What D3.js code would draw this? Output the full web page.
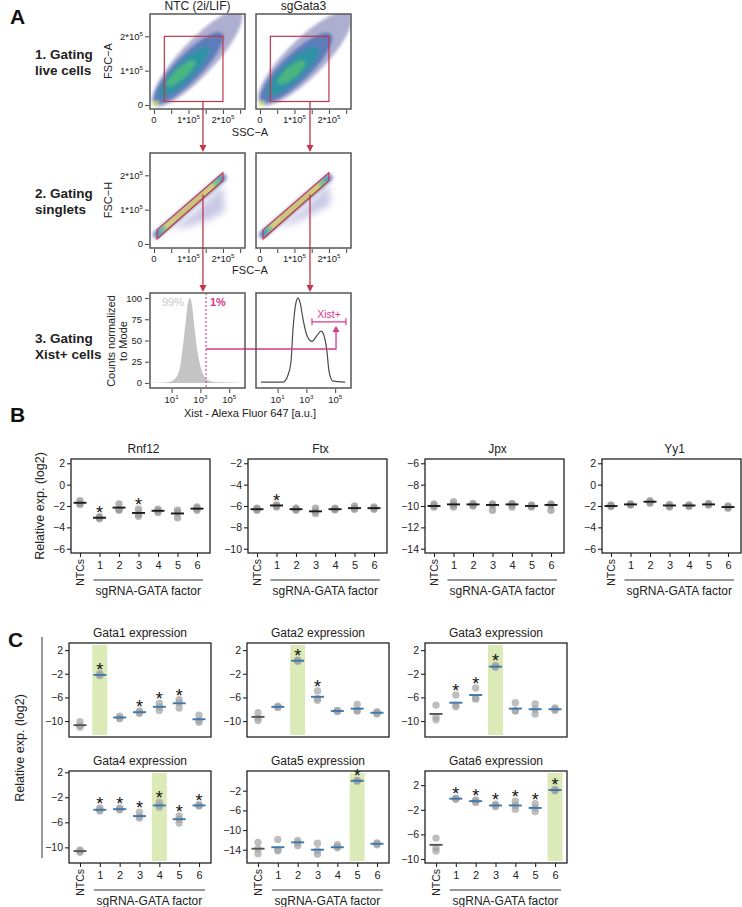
<!DOCTYPE html>
<html><head><meta charset="utf-8">
<script src="https://cdn.jsdelivr.net/npm/d3@7/dist/d3.min.js"></script>
<style>
body{margin:0;background:#fff;}
svg text{font-family:"Liberation Sans",Arial,Helvetica,sans-serif;}
</style></head>
<body>
<svg id="fig" width="742" height="907" xmlns="http://www.w3.org/2000/svg"></svg>
<script>
// ================= DATA =================
const categories = ["NTCs","1","2","3","4","5","6"];

// ---- Panel A (flow cytometry gating) ----
const aColTitles = ["NTC (2i/LIF)", "sgGata3"];
const aRowLabels = [["1. Gating","live cells"],["2. Gating","singlets"],["3. Gating","Xist+ cells"]];
const scatterXTicks = [0,0.5,1,1.5,2,2.5];          // ×10^5
const scatterYTicks = [0,1,2];                      // ×10^5
const scatterTickLabels = [["0",""],["1*10","5"],["2*10","5"]];
const histXTicks = [1,3,5];                         // log10
const histYTicks = [0,25,50,75,100];
const liveGate = [0.3,0.1,2.0,2.0];                 // x0,y0,x1,y1 (×10^5)
const singletGate = [[0.09,0.41],[2.0,2.07],[2.0,1.84],[0.09,0.15]];
// density ellipses: cx, cy, semi-major, semi-minor (×10^5), angle (deg), density level
const liveCloudNTC = [
  [1.25,1.35,1.85,0.5,47,0],
  [1.0,1.08,1.4,0.38,46,1],
  [0.88,0.97,1.0,0.27,45,2],
  [0.78,0.92,0.55,0.16,42,3],
  [0.05,0.05,0.1,0.05,45,4]
];
const liveCloudSg = [
  [1.3,1.35,1.85,0.55,45,0],
  [1.05,1.08,1.4,0.41,44,1],
  [0.95,0.98,1.0,0.29,43,2],
  [0.92,0.95,0.5,0.17,40,3],
  [0.05,0.05,0.1,0.05,45,4]
];
// singlet band segments: x0,y0,x1,y1, half-width (×10^5), density level
const singletBand = [
  [0.08,0.27,2.0,1.93,0.12,0],
  [0.12,0.31,1.95,1.9,0.085,1],
  [0.25,0.42,1.85,1.81,0.06,2],
  [0.35,0.51,1.7,1.69,0.042,3],
  [0.6,0.73,1.45,1.47,0.014,4]
];
const doubletsNTC = [[0.5,0.42],[1.2,0.95],[2.0,1.72],[2.05,0.95],[1.6,0.7],[1.0,0.5]];
const doubletsSg  = [[0.5,0.45],[1.2,0.98],[2.0,1.74],[2.05,1.15],[1.6,0.9],[1.0,0.6]];
// histograms: [log10 fluorescence, % of mode]
const histNTC = [[-0.5,0],[0.5,0.5],[1.0,2],[1.3,6],[1.6,20],[1.8,45],[2.0,75],[2.14,95],[2.28,100],[2.42,92],[2.56,70],[2.77,40],[3.0,20],[3.25,8],[3.55,3],[4.0,1],[6.1,0]];
const histSg = [[-0.15,1],[1.38,1],[1.72,9],[1.93,25],[2.07,63],[2.28,95],[2.42,100],[2.56,95],[2.77,75],[3.04,56],[3.39,49],[3.74,56],[4.02,61],[4.15,59],[4.43,37],[4.57,14],[4.85,2],[5.68,1]];
const xistThreshold = 3.39;
const xistConnector = [40, 5.06, 67];   // y level, x in right plot (log), arrow tip y
const xistBracket = [3.39, 5.75, 72];   // x0, x1 (log), y
const pctLabels = ["99%","1%"];

// ---- Panel B ----
const bGenes = ["Rnf12","Ftx","Jpx","Yy1"];
const bDomains = [[-6.4,2.4],[-10.4,-1.6],[-14.4,-5.6],[-6.4,2.4]];
const bYTicks = [[2,0,-2,-4,-6],[-2,-4,-6,-8,-10],[-6,-8,-10,-12,-14],[2,0,-2,-4,-6]];
const bRnf12 = [[-1.5,-1.75,-1.85],[-3.0,-3.1,-3.2],[-1.8,-2.3,-2.4],[-2.3,-2.75,-2.95],[-2.3,-2.45,-2.6],[-2.4,-2.6,-3.1],[-2.1,-2.25,-2.4]];
const bFtx   = [[-6.2,-6.3,-6.4],[-5.9,-6.0,-6.1],[-6.2,-6.3,-6.4],[-6.2,-6.5,-6.7],[-6.2,-6.3,-6.35],[-6.0,-6.2,-6.3],[-6.1,-6.2,-6.3]];
const bJpx   = [[-9.8,-10.0,-10.1],[-9.6,-9.9,-10.1],[-9.75,-9.9,-10.0],[-9.8,-9.9,-10.4],[-9.75,-9.85,-10.1],[-9.9,-10.0,-10.1],[-9.8,-9.9,-10.4]];
const bYy1   = [[-1.9,-2.0,-2.05],[-1.8,-1.85,-1.9],[-1.5,-1.65,-1.75],[-1.85,-2.0,-2.1],[-1.9,-1.95,-2.05],[-1.75,-1.85,-1.9],[-2.0,-2.1,-2.2]];
const bMeans = [
  [-1.7,-3.1,-2.15,-2.65,-2.45,-2.7,-2.25],
  [-6.3,-5.95,-6.3,-6.5,-6.3,-6.2,-6.2],
  [-10.0,-9.85,-9.85,-9.9,-9.85,-10.0,-9.9],
  [-2.0,-1.85,-1.6,-1.95,-1.95,-1.85,-2.1]
];
const bStars = [["1","3"],["1"],[],[]];

// ---- Panel C ----
const cGenes = ["Gata1 expression","Gata2 expression","Gata3 expression","Gata4 expression","Gata5 expression","Gata6 expression"];
const cDomains = [[-12.7,3.2],[-12.7,3.2],[-12.7,3.2],[-12.5,2.2],[-16.7,2.0],[-10.65,4.3]];
const cYTicks = [[2,-2,-6,-10],[2,-2,-6,-10],[2,-2,-6,-10],[2,-2,-6,-10],[-2,-6,-10,-14],[2,-2,-6,-10]];
const cGata1 = [[-10.1,-10.8,-11.0],[-2.0,-2.2,-2.3],[-9.2,-9.5,-9.6],[-8.3,-8.6,-8.7],[-7.0,-7.6,-8.2],[-6.4,-6.9,-7.8],[-9.0,-9.9,-10.2]];
const cGata2 = [[-8.6,-9.5,-9.9],[-7.5,-7.6,-7.7],[0.1,0.2,0.3],[-4.9,-6.2,-6.5],[-8.2,-8.3,-8.4],[-7.2,-8.2,-8.3],[-8.4,-8.6,-8.8]];
const cGata3 = [[-7.3,-9.3,-9.8],[-5.6,-7.3,-7.6],[-4.4,-6.1,-6.3],[-0.6,-0.8,-0.9],[-6.9,-8.2,-8.3],[-7.1,-8.0,-8.8],[-7.8,-8.0,-8.2]];
const cGata4 = [[-10.4,-10.6,-10.8],[-3.7,-4.0,-4.2],[-3.7,-3.9,-4.0],[-4.4,-5.1,-5.3],[-2.8,-3.3,-3.6],[-5.0,-5.5,-6.1],[-3.2,-3.3,-3.4]];
const cGata5 = [[-12.5,-13.8,-14.8],[-11.9,-14.0,-14.2],[-12.1,-12.6,-13.2],[-12.7,-14.2,-14.9],[-13.0,-13.4,-13.6],[-0.1,0.0,0.1],[-12.6,-12.8,-13.0]];
const cGata6 = [[-6.6,-8.2,-8.7],[-0.1,-0.2,-0.3],[-0.4,-0.6,-0.8],[-1.1,-1.3,-1.5],[-0.6,-1.3,-1.9],[-1.0,-1.7,-2.3],[1.1,1.2,1.3]];
const cMeans = [
  [-10.7,-2.2,-9.4,-8.5,-7.6,-7.0,-9.7],
  [-9.3,-7.6,0.2,-5.9,-8.3,-7.9,-8.6],
  [-8.8,-6.9,-5.6,-0.8,-7.9,-8.0,-8.0],
  [-10.6,-4.0,-3.9,-5.0,-3.3,-5.5,-3.3],
  [-13.8,-13.5,-12.5,-14.0,-13.5,0.0,-12.8],
  [-7.7,-0.2,-0.6,-1.3,-1.3,-1.7,1.2]
];
const cStars = [["1","3","4","5"],["2","3"],["1","2","3"],["1","2","3","4","5","6"],["5"],["1","2","3","4","5","6"]];
const cHighlight = ["1","2","3","4","5","6"];

// ================= DRAWING =================
const svg = d3.select("#fig");
const defs = svg.append("defs");
defs.append("filter").attr("id","blur").attr("x","-30%").attr("y","-30%").attr("width","160%").attr("height","160%")
  .append("feGaussianBlur").attr("stdDeviation",1.6);
defs.append("filter").attr("id","blur2").attr("x","-30%").attr("y","-30%").attr("width","160%").attr("height","160%")
  .append("feGaussianBlur").attr("stdDeviation",3.5);
const RED = "#c2354b", MAG = "#d8388c";
const liveColors = ["#3f3e92","#3b68b0","#2996a2","#4fb97c","#c4dd4c"];
const liveOpac = [0.42,0.7,0.85,0.9,0.95];
const bandColors = ["#5252a8","#3a9cc6","#79cc6e","#f5dc44","#f08c5c"];
const bandOpac = [0.6,0.8,0.95,1,0.85];

function sup(sel, base, exp, size){
  sel.text(null);
  sel.append("tspan").text(base);
  if (exp) sel.append("tspan").attr("font-size", size*0.65).attr("dy", -size*0.42).text(exp);
}
function panelLabel(t, x, y){
  svg.append("text").attr("x",x).attr("y",y).attr("font-size",21).attr("font-weight","bold").attr("fill","#111").text(t);
}

// ---------- Panel A ----------
panelLabel("A", 10, 24);
const aColX = [150, 256], aRowY = [14, 153, 293], aW = 95, aH = 95;
const sX = aColX.map(x0 => d3.scaleLinear().domain([-0.116, 2.64]).range([x0, x0 + aW]));
const sY = aRowY.slice(0,2).map(y0 => d3.scaleLinear().domain([-0.118, 2.65]).range([y0 + aH, y0]));
const hX = aColX.map(x0 => d3.scaleLinear().domain([-0.5, 6.1]).range([x0, x0 + aW]));
const hY = d3.scaleLinear().domain([-6, 106]).range([aRowY[2] + aH, aRowY[2]]);

aColTitles.forEach((t,i) => svg.append("text").attr("x", aColX[i] + aW/2).attr("y", 10).attr("text-anchor","middle")
  .attr("font-size", 12).attr("fill","#222").text(t));
const rowLabelY = [[59,75],[198,214],[343,359]];
aRowLabels.forEach((l,r) => l.forEach((s,k) => svg.append("text").attr("x",35).attr("y",rowLabelY[r][k])
  .attr("font-size",13.5).attr("font-weight","bold").attr("fill","#222").text(s)));

aColX.forEach((x0,i) => aRowY.forEach((y0,r) => {
  defs.append("clipPath").attr("id",`clip${i}${r}`).append("rect").attr("x",x0).attr("y",y0).attr("width",aW).attr("height",aH);
}));

// Row 1: live cells
[liveCloudNTC, liveCloudSg].forEach((cloud, i) => {
  const x = sX[i], y = sY[0], k = x(1) - x(0);
  const g = svg.append("g").attr("clip-path",`url(#clip${i}0)`).append("g").attr("filter","url(#blur)");
  cloud.forEach(([cx,cy,a,b,ang,lvl]) => {
    g.append("ellipse").attr("cx",x(cx)).attr("cy",y(cy)).attr("rx",a*k).attr("ry",b*k)
      .attr("transform",`rotate(${-ang},${x(cx)},${y(cy)})`)
      .attr("fill",liveColors[lvl]).attr("opacity",liveOpac[lvl]);
  });
  svg.append("rect").attr("x",x(liveGate[0])).attr("y",y(liveGate[3])).attr("width",x(liveGate[2])-x(liveGate[0]))
    .attr("height",y(liveGate[1])-y(liveGate[3])).attr("fill","none").attr("stroke",RED).attr("stroke-width",1.2);
});

// Row 2: singlets
[doubletsNTC, doubletsSg].forEach((dbl, i) => {
  const x = sX[i], y = sY[1], k = x(1) - x(0);
  const clip = svg.append("g").attr("clip-path",`url(#clip${i}1)`);
  clip.append("path").attr("d", d3.line().x(d=>x(d[0])).y(d=>y(d[1]))(dbl) + "Z")
    .attr("fill","#5858b0").attr("opacity",0.32).attr("filter","url(#blur2)");
  const g = clip.append("g").attr("filter","url(#blur)");
  singletBand.forEach(([x0,y0,x1,y1,hw,lvl]) => {
    g.append("line").attr("x1",x(x0)).attr("y1",y(y0)).attr("x2",x(x1)).attr("y2",y(y1))
      .attr("stroke",bandColors[lvl]).attr("stroke-width",2*hw*k).attr("stroke-linecap","round").attr("opacity",bandOpac[lvl]);
  });
  svg.append("path").attr("d", d3.line().x(d=>x(d[0])).y(d=>y(d[1]))(singletGate) + "Z")
    .attr("fill","none").attr("stroke",RED).attr("stroke-width",1.2);
});

// Row 3: histograms
[histNTC, histSg].forEach((h,i) => {
  const x = hX[i];
  const clip = svg.append("g").attr("clip-path",`url(#clip${i}2)`);
  if (i === 0) {
    clip.append("path").attr("d", d3.area().x(d=>x(d[0])).y0(hY(0)).y1(d=>hY(d[1])).curve(d3.curveMonotoneX)(h))
      .attr("fill","#c4c4c4");
  } else {
    clip.append("path").attr("d", d3.line().x(d=>x(d[0])).y(d=>hY(d[1])).curve(d3.curveMonotoneX)(h))
      .attr("fill","none").attr("stroke","#4a4a4a").attr("stroke-width",1.2);
  }
});
svg.append("line").attr("x1",hX[0](xistThreshold)).attr("x2",hX[0](xistThreshold)).attr("y1",aRowY[2]).attr("y2",aRowY[2]+aH)
  .attr("stroke",MAG).attr("stroke-width",1.1).attr("stroke-dasharray","2,2");
svg.append("path").attr("d",`M${hX[0](xistThreshold)},${hY(xistConnector[0])}H${hX[1](xistConnector[1])}V${hY(xistConnector[2])+5}`)
  .attr("fill","none").attr("stroke",MAG).attr("stroke-width",1.3);
svg.append("path").attr("d",`M${hX[1](xistConnector[1])-3.5},${hY(xistConnector[2])+6}L${hX[1](xistConnector[1])},${hY(xistConnector[2])}L${hX[1](xistConnector[1])+3.5},${hY(xistConnector[2])+6}Z`)
  .attr("fill",MAG);
{
  const bx0 = hX[1](xistBracket[0]), bx1 = hX[1](xistBracket[1]), by = hY(xistBracket[2]);
  svg.append("path").attr("d",`M${bx0},${by-3.5}V${by+3.5}M${bx0},${by}H${bx1}M${bx1},${by-3.5}V${by+3.5}`)
    .attr("fill","none").attr("stroke",MAG).attr("stroke-width",1.2);
  svg.append("text").attr("x",(bx0+bx1)/2).attr("y",by-4).attr("text-anchor","middle").attr("font-size",10.5).attr("fill",MAG).text("Xist+");
}
svg.append("text").attr("x",hX[0](1.1)).attr("y",aRowY[2]+13).attr("text-anchor","middle").attr("font-size",11).attr("fill","#c8c8c8").text(pctLabels[0]);
svg.append("text").attr("x",hX[0](xistThreshold)+4).attr("y",aRowY[2]+13).attr("font-size",11).attr("font-weight","bold").attr("fill",MAG).text(pctLabels[1]);

// arrows between rows
const arrowX = [1.42, 1.45];
aColX.forEach((x0,i) => {
  const ax = sX[i](arrowX[i]);
  const segs = [[sY[0](liveGate[1]), aRowY[1]-1], [sY[1](1.44), aRowY[2]-1]];
  segs.forEach(([ya,yb]) => {
    svg.append("line").attr("x1",ax).attr("x2",ax).attr("y1",ya).attr("y2",yb-5).attr("stroke",RED).attr("stroke-width",1.3);
    svg.append("path").attr("d",`M${ax-3.5},${yb-7}L${ax},${yb}L${ax+3.5},${yb-7}Z`).attr("fill",RED);
  });
});

function styleAxis(g, fs){
  g.select(".domain").remove();
  g.selectAll(".tick line").attr("stroke","#444");
  g.selectAll(".tick text").attr("font-size",fs).attr("fill","#222").attr("font-family",null);
}
aColX.forEach((x0,i) => aRowY.forEach((y0,r) => {
  svg.append("rect").attr("x",x0).attr("y",y0).attr("width",aW).attr("height",aH).attr("fill","none").attr("stroke","#555").attr("stroke-width",1.5);
  if (r < 2) {
    const gx = svg.append("g").attr("transform",`translate(0,${y0+aH+1})`)
      .call(d3.axisBottom(sX[i]).tickValues(scatterXTicks).tickSize(4).tickFormat(""));
    styleAxis(gx, 9.5);
    scatterYTicks.forEach(v => {
      const t = svg.append("text").attr("x",sX[i](v)).attr("y",y0+aH+14).attr("text-anchor","middle").attr("font-size",9.5).attr("fill","#222");
      sup(t, scatterTickLabels[v][0], scatterTickLabels[v][1], 9.5);
    });
    if (i === 0) {
      const gy = svg.append("g").attr("transform",`translate(${x0-1},0)`)
        .call(d3.axisLeft(sY[r]).tickValues(scatterYTicks).tickSize(4).tickFormat(""));
      styleAxis(gy, 9.5);
      scatterYTicks.forEach(v => {
        const t = svg.append("text").attr("x",x0-7).attr("y",sY[r](v)+3.5).attr("text-anchor","end").attr("font-size",9.5).attr("fill","#222");
        sup(t, scatterTickLabels[v][0], scatterTickLabels[v][1], 9.5);
      });
    }
  } else {
    const gx = svg.append("g").attr("transform",`translate(0,${y0+aH+1})`)
      .call(d3.axisBottom(hX[i]).tickValues(histXTicks).tickSize(4).tickFormat(""));
    styleAxis(gx, 9.5);
    histXTicks.forEach(v => {
      const t = svg.append("text").attr("x",hX[i](v)).attr("y",y0+aH+15).attr("text-anchor","middle").attr("font-size",9.5).attr("fill","#222");
      sup(t, "10", String(v), 9.5);
    });
    if (i === 0) {
      const gy = svg.append("g").attr("transform",`translate(${x0-1},0)`)
        .call(d3.axisLeft(hY).tickValues(histYTicks).tickSize(4));
      styleAxis(gy, 9.5);
    }
  }
}));
svg.append("text").attr("x",250).attr("y",136).attr("text-anchor","middle").attr("font-size",11).attr("fill","#222").text("SSC\u2212A");
svg.append("text").attr("x",250).attr("y",274).attr("text-anchor","middle").attr("font-size",11).attr("fill","#222").text("FSC\u2212A");
svg.append("text").attr("x",250).attr("y",417).attr("text-anchor","middle").attr("font-size",11).attr("fill","#222").text("Xist - Alexa Fluor 647 [a.u.]");
[["FSC\u2212A",112,61],["FSC\u2212H",112,200]].forEach(([t,x,y]) =>
  svg.append("text").attr("transform",`translate(${x},${y}) rotate(-90)`).attr("text-anchor","middle").attr("font-size",11).attr("fill","#222").text(t));
svg.append("text").attr("transform","translate(115,341) rotate(-90)").attr("text-anchor","middle").attr("font-size",11).attr("fill","#222").text("Counts normalized");
svg.append("text").attr("transform","translate(127,341) rotate(-90)").attr("text-anchor","middle").attr("font-size",11).attr("fill","#222").text("to Mode");

// ---------- dot plot panels (B & C) ----------
const fmt = d => d < 0 ? "\u2212" + Math.abs(d) : String(d);
function dotPanel(x0, y0, w, h, o){
  const g = svg.append("g").attr("transform",`translate(${x0},${y0})`);
  const x = d3.scalePoint().domain(categories).range([o.pad0, w - o.pad1]);
  const y = d3.scaleLinear().domain(o.domain).range([h, 0]);
  g.append("text").attr("x", w/2 + (o.titleDx||0)).attr("y", -6).attr("text-anchor","middle").attr("font-size",12).attr("fill","#222").text(o.title);
  if (o.hl) g.append("rect").attr("x", x(o.hl) - 7.5).attr("y", 2).attr("width", 15).attr("height", h - 4).attr("fill","#dbeab7");
  categories.forEach((c,ci) => {
    o.reps[ci].forEach(v => g.append("circle").attr("cx", x(c)).attr("cy", y(v)).attr("r", 3.7).attr("fill", o.dotColor).attr("opacity", 0.7));
  });
  categories.forEach((c,ci) => {
    g.append("line").attr("x1", x(c) - 6.5).attr("x2", x(c) + 6.5).attr("y1", y(o.means[ci])).attr("y2", y(o.means[ci]))
      .attr("stroke", ci === 0 ? o.ntcColor : o.meanColor).attr("stroke-width", 1.9);
  });
  o.stars.forEach(c => {
    const ci = categories.indexOf(c);
    g.append("text").attr("x", x(c)).attr("y", y(d3.max(o.reps[ci])) + 2).attr("text-anchor","middle")
      .attr("font-size", 18).attr("fill","#111").text("*");
  });
  g.append("rect").attr("width", w).attr("height", h).attr("fill","none").attr("stroke","#222").attr("stroke-width",1.3);
  const gy = g.append("g").call(d3.axisLeft(y).tickValues(o.ticks).tickSize(4).tickPadding(2).tickFormat(fmt));
  gy.select(".domain").remove();
  gy.selectAll(".tick line").attr("stroke","#222").attr("stroke-width",1.1);
  gy.selectAll(".tick text").attr("font-size",10.5).attr("fill","#222").attr("font-family",null);
  if (o.xaxis) {
    const gx = g.append("g").attr("transform",`translate(0,${h})`)
      .call(d3.axisBottom(x).tickSize(4).tickPadding(4).tickFormat(d => d === "NTCs" ? "" : d));
    gx.select(".domain").remove();
    gx.selectAll(".tick line").attr("stroke","#222").attr("stroke-width",1.1);
    gx.selectAll(".tick text").attr("font-size",11).attr("fill","#222").attr("font-family",null);
    g.append("text").attr("transform",`translate(${x("NTCs")},${h+6}) rotate(-90)`).attr("dy","0.35em")
      .attr("text-anchor","end").attr("font-size",10.5).attr("fill","#222").text("NTCs");
    g.append("line").attr("x1", x("1") - 6).attr("x2", x("6") + 6).attr("y1", h + 27).attr("y2", h + 27).attr("stroke","#333").attr("stroke-width",1);
    g.append("text").attr("x", (x("1") + x("6"))/2).attr("y", h + 42).attr("text-anchor","middle").attr("font-size",12).attr("fill","#222").text("sgRNA-GATA factor");
  }
}

// ---------- Panel B ----------
panelLabel("B", 10, 422);
const bReps = [bRnf12, bFtx, bJpx, bYy1];
const bLeft = [71, 248, 425, 602];
bGenes.forEach((gname, i) => dotPanel(bLeft[i], 459, 139, 94, {
  title: gname, titleDx: 3, domain: bDomains[i], ticks: bYTicks[i], reps: bReps[i], means: bMeans[i],
  stars: bStars[i], dotColor: "#949494", meanColor: "#1a1a1a", ntcColor: "#1a1a1a", xaxis: true, pad0: 9, pad1: 13
}));
svg.append("text").attr("transform","translate(44,506) rotate(-90)").attr("text-anchor","middle").attr("font-size",12.5).attr("fill","#222").text("Relative exp. (log2)");

// ---------- Panel C ----------
panelLabel("C", 8, 647);
const cReps = [cGata1, cGata2, cGata3, cGata4, cGata5, cGata6];
const cLeft = [69, 247, 425], cTop = [643, 771], cH = [94, 92];
cGenes.forEach((gname, i) => {
  const r = Math.floor(i / 3), c = i % 3;
  dotPanel(cLeft[c], cTop[r], 142, cH[r], {
    title: gname, domain: cDomains[i], ticks: cYTicks[i], reps: cReps[i], means: cMeans[i], stars: cStars[i],
    hl: cHighlight[i], dotColor: "#a3a3a3", meanColor: "#3a78ae", ntcColor: "#555", xaxis: r === 1, pad0: 11, pad1: 12
  });
});
svg.append("line").attr("x1",42).attr("x2",42).attr("y1",637).attr("y2",858).attr("stroke","#333").attr("stroke-width",1);
svg.append("text").attr("transform","translate(24,748) rotate(-90)").attr("text-anchor","middle").attr("font-size",12.5).attr("fill","#222").text("Relative exp. (log2)");
</script>
</body></html>
